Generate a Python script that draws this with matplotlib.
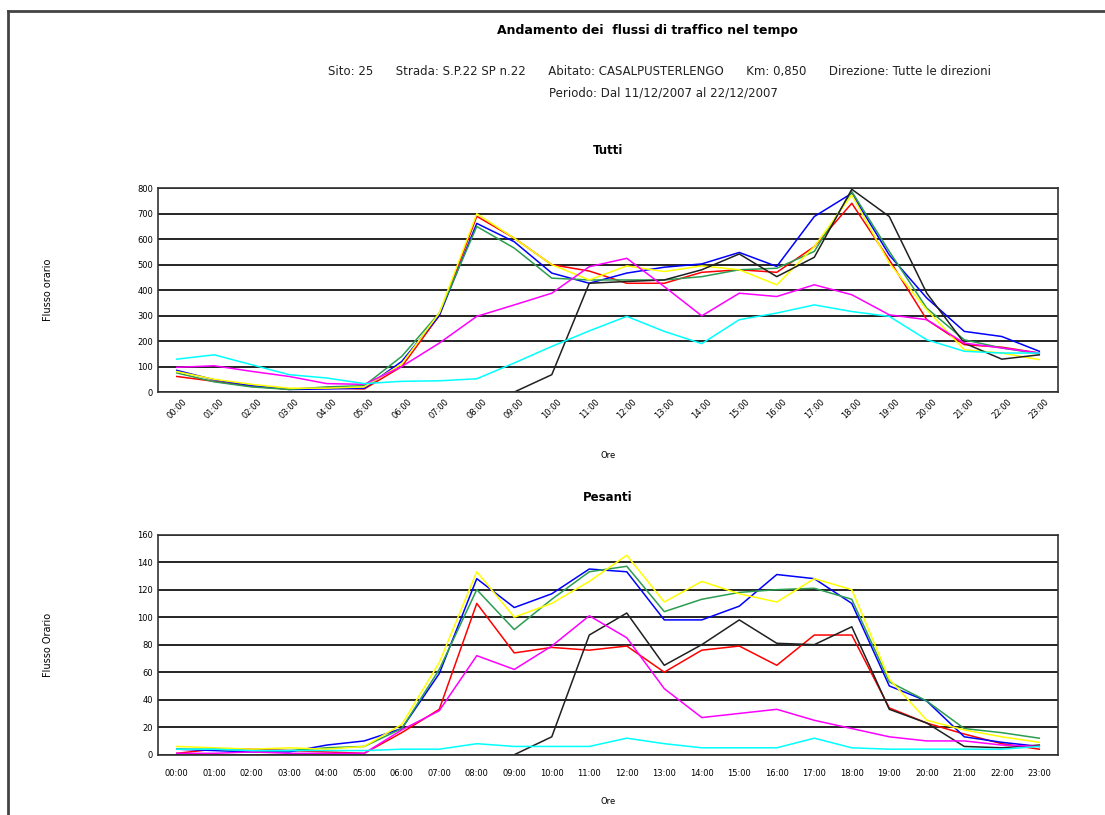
import matplotlib
matplotlib.use('Agg')
import matplotlib.pyplot as plt
from matplotlib.lines import Line2D
import numpy as np

nan = np.nan

hours = ['%02d:00' % h for h in range(24)]

# Tutti (all vehicles), hourly flow
tutti_red = [61, 42, 22, 12, 16, 12, 100, 300, 690, 604, 500, 475, 427, 427, 470,
             480, 470, 571, 741, 519, 284, 186, 176, 153]
tutti_blue = [85, 48, 25, 10, 12, 15, 120, 300, 662, 590, 467, 427, 467, 490, 503,
              548, 493, 689, 780, 538, 369, 238, 218, 160]
tutti_green = [75, 40, 20, 10, 20, 25, 140, 310, 650, 565, 447, 440, 440, 440, 453,
               480, 486, 552, 787, 552, 329, 205, 173, 150]
tutti_yellow = [80, 50, 30, 15, 15, 20, 110, 310, 700, 604, 500, 440, 495, 473, 495,
                480, 421, 571, 774, 506, 323, 166, 153, 127]
tutti_black = [nan, nan, nan, nan, nan, nan, nan, nan, nan, 0, 68, 427, 434, 440, 480,
               542, 453, 529, 796, 689, 388, 192, 129, 146]
tutti_magenta = [97, 103, 81, 61, 33, 30, 100, 192, 297, 342, 388, 492, 525, 414, 299,
                 388, 375, 421, 382, 303, 284, 192, 173, 153]
tutti_cyan = [129, 146, 107, 68, 55, 33, 42, 44, 52, 114, 179, 240, 297, 238, 190,
              284, 310, 342, 316, 297, 205, 160, 153, 153]

# Pesanti (heavy vehicles), hourly flow
pes_red = [1, 4, 4, 3, 2, 1, 16, 33, 110, 74, 78, 76, 79, 60, 76,
           79, 65, 87, 87, 34, 23, 15, 8, 4]
pes_blue = [4, 3, 2, 2, 7, 10, 19, 59, 128, 107, 117, 135, 133, 98, 98,
            108, 131, 128, 110, 50, 39, 13, 9, 6]
pes_green = [4, 4, 3, 3, 5, 6, 19, 62, 120, 91, 113, 133, 137, 104, 113,
             118, 120, 121, 113, 53, 39, 19, 16, 12]
pes_yellow = [6, 5, 4, 5, 4, 6, 22, 67, 133, 100, 110, 126, 145, 111, 126,
              117, 111, 128, 120, 55, 25, 18, 13, 9]
pes_black = [nan, nan, nan, nan, nan, nan, nan, nan, nan, 0, 13, 87, 103, 65, 80,
             98, 81, 80, 93, 33, 23, 6, 5, 7]
pes_magenta = [1, 1, 2, 1, 1, 1, 18, 32, 72, 62, 79, 101, 85, 48, 27,
               30, 33, 25, 19, 13, 10, 10, 7, 6]
pes_cyan = [4, 4, 3, 3, 3, 3, 4, 4, 8, 6, 6, 6, 12, 8, 5,
            5, 5, 12, 5, 4, 4, 4, 4, 6]

colors = ['#ff0000', '#0000ff', '#2a9d50', '#ffff00', '#202020', '#ff00ff', '#00ffff']
tutti = [tutti_red, tutti_blue, tutti_green, tutti_yellow, tutti_black, tutti_magenta, tutti_cyan]
pesanti = [pes_red, pes_blue, pes_green, pes_yellow, pes_black, pes_magenta, pes_cyan]

fig = plt.figure(figsize=(11.05, 8.15), dpi=100)

# page frame (top and left)
fig.add_artist(Line2D([0.0072, 1.0], [0.9865, 0.9865], color='#444444', lw=2))
fig.add_artist(Line2D([0.0072, 0.0072], [0.0, 0.9865], color='#444444', lw=2))

fig.text(0.586, 0.962, 'Andamento dei  flussi di traffico nel tempo',
         ha='center', va='center', fontsize=9, fontweight='bold')
fig.text(0.597, 0.912, 'Sito: 25      Strada: S.P.22 SP n.22      Abitato: CASALPUSTERLENGO'
         '      Km: 0,850      Direzione: Tutte le direzioni',
         ha='center', va='center', fontsize=8.5, color='#222222')
fig.text(0.6, 0.886, 'Periodo: Dal 11/12/2007 al 22/12/2007',
         ha='center', va='center', fontsize=8.5, color='#222222')

x = np.arange(24)


def draw(ax, series, ymax, step):
    for s, c in zip(series, colors):
        ax.plot(x, s, color=c, lw=1.1)
    ax.set_xlim(-0.5, 23.5)
    ax.set_ylim(0, ymax)
    ax.set_yticks(np.arange(0, ymax + 1, step))
    ax.yaxis.grid(True, color='black', lw=1.2)
    ax.set_axisbelow(True)
    ax.tick_params(axis='both', length=0, labelsize=6)
    ax.set_xticks(x)
    for sp in ax.spines.values():
        sp.set_color('#333333')
        sp.set_linewidth(1.2)


ax1 = fig.add_axes([0.143, 0.519, 0.8145, 0.250])
draw(ax1, tutti, 800, 100)
ax1.set_xticklabels(hours, rotation=45, ha='center', fontsize=6)
ax1.set_title('Tutti', fontsize=8.5, fontweight='bold', pad=25)
ax1.set_xlabel('Ore', fontsize=6, labelpad=22)
ax1.set_ylabel('Flusso orario', fontsize=7, labelpad=61)

ax2 = fig.add_axes([0.143, 0.074, 0.8145, 0.270])
draw(ax2, pesanti, 160, 20)
ax2.set_xticklabels(hours, fontsize=6)
ax2.tick_params(axis='x', pad=10)
ax2.set_title('Pesanti', fontsize=8.5, fontweight='bold', pad=24)
ax2.set_xlabel('Ore', fontsize=6, labelpad=14)
ax2.set_ylabel('Flusso Orario', fontsize=7, labelpad=61)

fig.savefig('out.png', dpi=100)
